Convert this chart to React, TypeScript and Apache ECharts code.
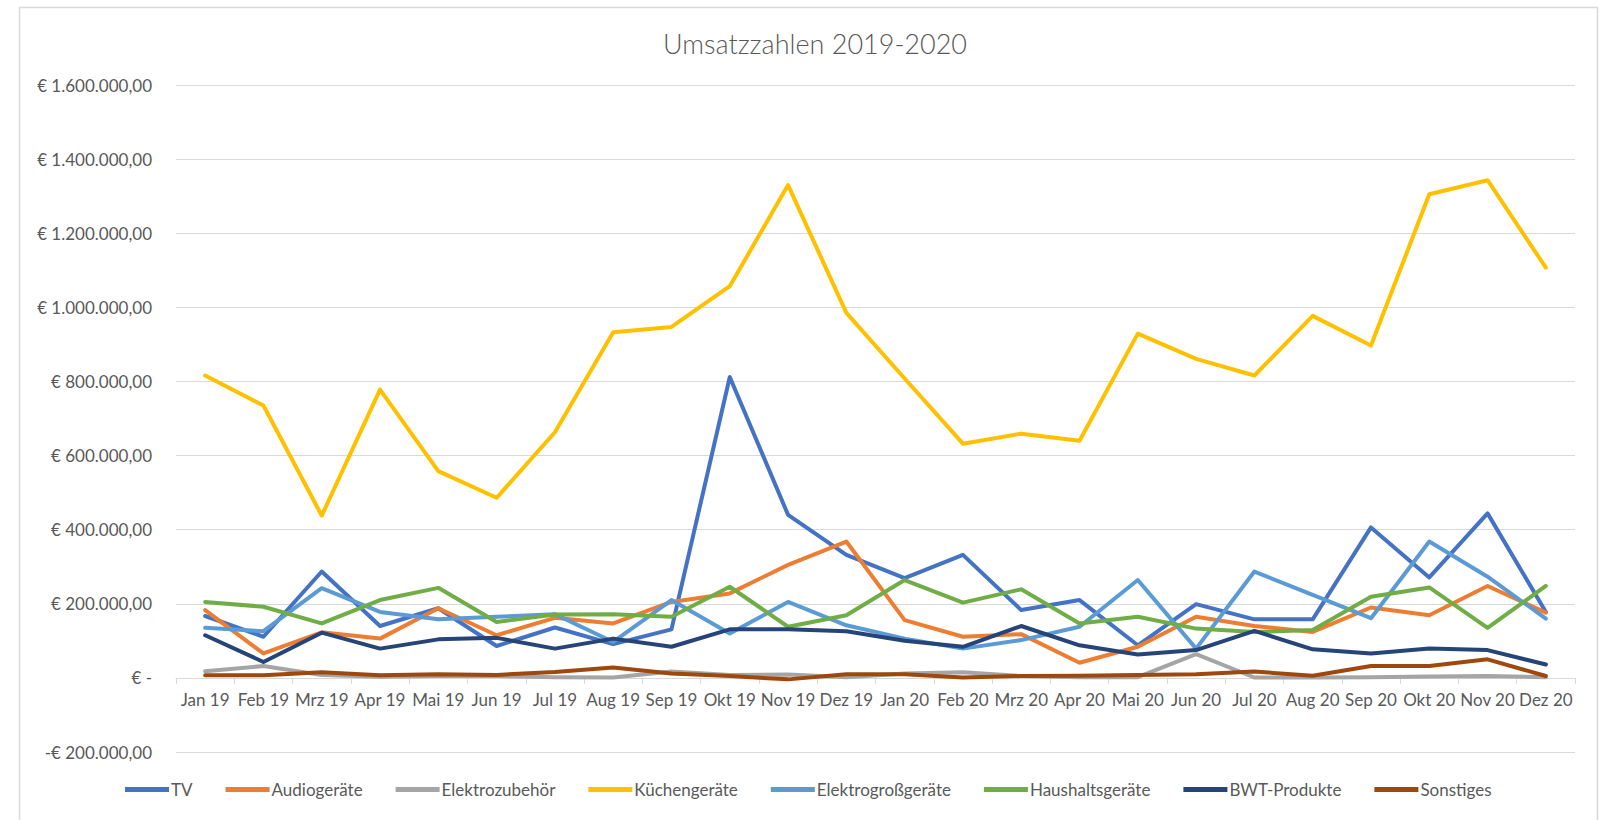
import React, { useEffect, useRef } from "react";
import * as echarts from "echarts";

const months = [
  "Jan 19", "Feb 19", "Mrz 19", "Apr 19", "Mai 19", "Jun 19", "Jul 19", "Aug 19", "Sep 19", "Okt 19", "Nov 19", "Dez 19",
  "Jan 20", "Feb 20", "Mrz 20", "Apr 20", "Mai 20", "Jun 20", "Jul 20", "Aug 20", "Sep 20", "Okt 20", "Nov 20", "Dez 20",
];

const tv = [167000, 111000, 287000, 140000, 188000, 86000, 136000, 91000, 131000, 812000, 440000, 332000,
  269000, 332000, 183000, 210000, 88000, 199000, 158000, 158000, 406000, 271000, 444000, 178000];
const audio = [183000, 66000, 123000, 106000, 188000, 115000, 162000, 147000, 205000, 228000, 305000, 368000,
  156000, 111000, 118000, 41000, 84000, 165000, 140000, 124000, 190000, 169000, 248000, 176000];
const zubehoer = [18000, 32000, 8000, 3000, 5000, 5000, 2000, 1000, 17000, 8000, 9000, 2000,
  12000, 15000, 5000, 2000, 2000, 64000, 1000, 1000, 2000, 4000, 5000, 2000];
const kueche = [816000, 735000, 438000, 778000, 558000, 486000, 663000, 933000, 947000, 1057000, 1330000, 985000,
  808000, 632000, 659000, 640000, 929000, 861000, 816000, 977000, 897000, 1305000, 1343000, 1107000];
const gross = [135000, 126000, 242000, 178000, 158000, 165000, 172000, 97000, 210000, 120000, 205000, 142000,
  106000, 79000, 102000, 138000, 264000, 79000, 287000, 224000, 161000, 368000, 273000, 160000];
const haushalt = [205000, 192000, 147000, 210000, 243000, 151000, 171000, 172000, 165000, 246000, 138000, 169000,
  264000, 203000, 239000, 147000, 165000, 133000, 124000, 129000, 219000, 244000, 135000, 248000];
const bwt = [115000, 43000, 122000, 79000, 104000, 108000, 79000, 106000, 84000, 131000, 131000, 126000,
  100000, 84000, 140000, 88000, 63000, 75000, 127000, 77000, 66000, 79000, 75000, 36000];
const sonstiges = [7000, 7000, 15000, 7000, 10000, 8000, 16000, 28000, 12000, 5000, -4000, 10000,
  10000, 1000, 5000, 6000, 8000, 10000, 17000, 6000, 32000, 32000, 50000, 5000];

const seriesNames = ["TV", "Audiogeräte", "Elektrozubehör", "Küchengeräte", "Elektrogroßgeräte", "Haushaltsgeräte", "BWT-Produkte", "Sonstiges"];
const seriesData = [tv, audio, zubehoer, kueche, gross, haushalt, bwt, sonstiges];
const seriesColors = ["#4472C4", "#ED7D31", "#A5A5A5", "#FFC000", "#5B9BD5", "#70AD47", "#264478", "#9E480E"];

const FONT = "Lato, 'Open Sans', sans-serif";

function fmtDE(v: number): string {
  const abs = Math.abs(v);
  const intPart = Math.floor(abs).toString().replace(/\B(?=(\d{3})+(?!\d))/g, ".");
  return intPart + ",00";
}

function euro(v: number): string {
  if (v === 0) return "€ -";
  if (v < 0) return "-€ " + fmtDE(v);
  return "€ " + fmtDE(v);
}

export default function App() {
  const ref = useRef<HTMLDivElement>(null);
  useEffect(() => {
    if (!ref.current) return;
    const chart = echarts.init(ref.current, undefined, { renderer: "svg" });
    chart.setOption({
      animation: false,
      backgroundColor: "#ffffff",
      title: {
        text: "Umsatzzahlen 2019-2020",
        left: 810,
        textAlign: "center",
        top: 25,
        textStyle: { fontFamily: FONT, fontSize: 27, fontWeight: 300, color: "#595959" },
      },
      graphic: [
        {
          type: "rect",
          shape: { x: 19.5, y: 7.5, width: 1578, height: 840 },
          style: { fill: "none", stroke: "#d9d9d9", lineWidth: 1.5 },
          silent: true,
        },
      ],
      legend: {
        left: 120,
        top: 776,
        icon: "rect",
        itemWidth: 44,
        itemHeight: 5,
        itemGap: 33,
        textStyle: { fontFamily: FONT, fontSize: 17, color: "#595959", padding: [0, 0, 0, -3] },
        data: seriesNames,
      },
      grid: { left: 176, right: 29, top: 85, bottom: 68, containLabel: false },
      xAxis: {
        type: "category",
        data: months,
        boundaryGap: true,
        offset: -74.1,
        axisLine: { onZero: false, lineStyle: { color: "#d9d9d9", width: 1 } },
        axisTick: { show: true, length: 6, lineStyle: { color: "#d9d9d9" } },
        axisLabel: { interval: 0, fontFamily: FONT, fontSize: 17, color: "#595959", margin: 13 },
        splitLine: { show: false },
      },
      yAxis: {
        type: "value",
        min: -200000,
        max: 1600000,
        interval: 200000,
        axisLine: { show: false },
        axisTick: { show: false },
        axisLabel: { formatter: euro, fontFamily: FONT, fontSize: 17, color: "#595959", margin: 24 },
        splitLine: { lineStyle: { color: "#d9d9d9", width: 1 } },
      },
      series: seriesNames.map((name, i) => ({
        name,
        type: "line",
        data: seriesData[i],
        symbol: "none",
        smooth: false,
        color: seriesColors[i],
        lineStyle: { color: seriesColors[i], width: 4, cap: "round", join: "round" },
      })),
    });
    return () => chart.dispose();
  }, []);
  return <div ref={ref} style={{ position: "fixed", left: 0, top: 0, width: 1604, height: 820 }} />;
}
